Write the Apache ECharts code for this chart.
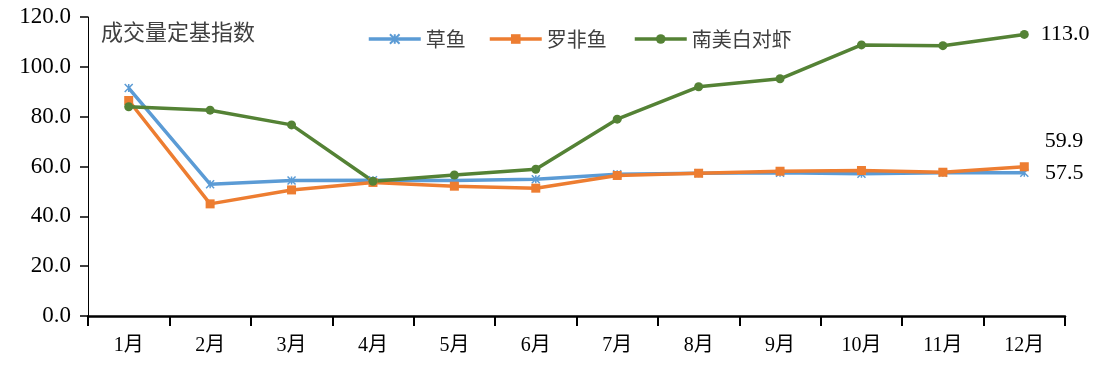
<!DOCTYPE html>
<html>
<head>
<meta charset="utf-8">
<script src="https://cdn.jsdelivr.net/npm/echarts@6/dist/echarts.min.js"></script>
<style>html,body{margin:0;padding:0;background:#fff;}#c{width:1108px;height:388px;}</style>
</head>
<body>
<div id="c"></div>
<script>
const categories = ['1月','2月','3月','4月','5月','6月','7月','8月','9月','10月','11月','12月'];
const grassCarp = [91.5, 52.9, 54.4, 54.5, 54.4, 54.9, 56.9, 57.3, 57.5, 57.1, 57.5, 57.5];
const tilapia = [86.5, 45.0, 50.6, 53.6, 52.1, 51.3, 56.4, 57.3, 58.1, 58.4, 57.7, 59.9];
const shrimp = [84.0, 82.6, 76.7, 54.1, 56.6, 58.9, 79.0, 92.0, 95.2, 108.8, 108.5, 113.0];
const seriesNames = ['草鱼', '罗非鱼', '南美白对虾'];
const yTicks = {min: 0, max: 120, interval: 20};
const titleText = '成交量定基指数';

const serif = '"Liberation Serif", "Times New Roman", "Noto Sans CJK SC", serif';
const sans = '"Noto Sans CJK SC", sans-serif';

function withEndLabel(arr, labelOpt) {
  return arr.map((v, i) => i === arr.length - 1
    ? {value: v, label: Object.assign({show: true, formatter: p => Number(p.value).toFixed(1),
        fontFamily: serif, fontSize: 22, color: '#000'}, labelOpt)}
    : v);
}

const legendLefts = [362, 483, 628];
const legends = seriesNames.map((n, i) => ({
  left: legendLefts[i], top: 24, itemWidth: 52, itemHeight: 12,
  textStyle: {fontFamily: sans, fontSize: 20, color: '#404040'},
  lineStyle: {width: 3.5},
  data: [n]
}));

const chart = echarts.init(document.getElementById('c'), null, {renderer: 'canvas'});
chart.setOption({
  animation: false,
  backgroundColor: '#fff',
  title: {
    text: titleText, left: 96, top: 16,
    textStyle: {fontFamily: sans, fontSize: 22, fontWeight: 'normal', color: '#404040'}
  },
  legend: legends,
  grid: {left: 88, right: 43, top: 17, bottom: 72},
  xAxis: {
    type: 'category', data: categories, boundaryGap: true,
    axisLine: {lineStyle: {color: '#000', width: 2.5}},
    axisTick: {show: true, length: 10, lineStyle: {color: '#000', width: 2}},
    axisLabel: {fontFamily: serif, fontSize: 20, color: '#000', margin: 20}
  },
  yAxis: {
    type: 'value', min: yTicks.min, max: yTicks.max, interval: yTicks.interval,
    axisLine: {show: true, lineStyle: {color: '#000', width: 1}},
    axisTick: {show: true, length: 8, lineStyle: {color: '#000', width: 1.5}},
    splitLine: {show: false},
    axisLabel: {fontFamily: serif, fontSize: 23, color: '#000', margin: 17,
      formatter: v => v.toFixed(1)}
  },
  series: [
    {
      name: seriesNames[0], type: 'line', data: withEndLabel(grassCarp, {position: 'right', distance: 16, offset: [0, 0]}),
      symbol: 'path://M0,0L10,10M10,0L0,10M5,0L5,10', symbolSize: 8,
      lineStyle: {color: '#5B9BD5', width: 3.5},
      itemStyle: {color: '#5B9BD5', borderColor: '#5B9BD5', borderWidth: 1.5}
    },
    {
      name: seriesNames[1], type: 'line', data: withEndLabel(tilapia, {position: 'right', distance: 16, offset: [0, -26]}),
      symbol: 'rect', symbolSize: 9,
      lineStyle: {color: '#ED7D31', width: 3.5},
      itemStyle: {color: '#ED7D31'}
    },
    {
      name: seriesNames[2], type: 'line', data: withEndLabel(shrimp, {position: 'right', distance: 12, offset: [0, 0]}),
      symbol: 'circle', symbolSize: 9,
      lineStyle: {color: '#548235', width: 3.5},
      itemStyle: {color: '#548235'}
    }
  ]
});
</script>
</body>
</html>
